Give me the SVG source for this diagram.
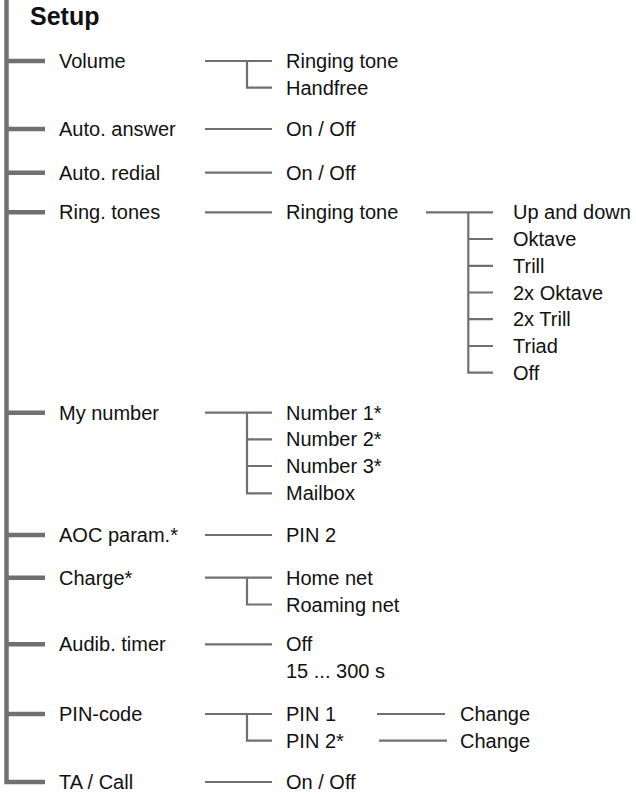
<svg xmlns="http://www.w3.org/2000/svg" width="636" height="794" viewBox="0 0 636 794">
<style>
text{font-family:"Liberation Sans",Arial,sans-serif;font-size:20px;fill:#111}
.title{font-weight:bold;font-size:25px}
.main{stroke:#707070;stroke-width:4.5;fill:none}
.thin{stroke:#707070;stroke-width:2.2;fill:none}
</style>
<rect width="636" height="794" fill="#fff"/>
<g id="connectors">
<path class="main" d="M6.5 0 V782 H45"/>
<path class="main" d="M6.5 61 H45 M6.5 129 H45 M6.5 172.7 H45 M6.5 212.3 H45 M6.5 412.7 H45 M6.5 535 H45 M6.5 577.7 H45 M6.5 644.3 H45 M6.5 714 H45"/>
<path class="thin" d="M205 61 H272 M247 61 V87.7 H272"/>
<path class="thin" d="M205 129 H272"/>
<path class="thin" d="M205 172.7 H272"/>
<path class="thin" d="M205 212.3 H272"/>
<path class="thin" d="M426 212.3 H493 M468.3 212.3 V372.7 H493 M468.3 239 H493 M468.3 265.8 H493 M468.3 292.5 H493 M468.3 319.2 H493 M468.3 346 H493"/>
<path class="thin" d="M205 412.7 H272 M247 412.7 V493.3 H272 M247 439.3 H272 M247 466 H272"/>
<path class="thin" d="M205 535 H272"/>
<path class="thin" d="M205 577.7 H272 M247 577.7 V604.5 H272"/>
<path class="thin" d="M205 644.3 H272"/>
<path class="thin" d="M205 714 H272 M247 714 V740.7 H272"/>
<path class="thin" d="M377 714 H445 M379 740.7 H447"/>
<path class="thin" d="M205 782 H272"/>
</g>
<g id="setup"><text class="title" x="30" y="25">Setup</text></g>
<g id="volume"><text x="59" y="68">Volume</text></g>
<g id="volume-ringing"><text x="286" y="68">Ringing tone</text></g>
<g id="volume-handfree"><text x="286" y="94.7">Handfree</text></g>
<g id="auto-answer"><text x="59" y="136">Auto. answer</text></g>
<g id="auto-answer-onoff"><text x="286" y="136">On / Off</text></g>
<g id="auto-redial"><text x="59" y="179.7">Auto. redial</text></g>
<g id="auto-redial-onoff"><text x="286" y="179.7">On / Off</text></g>
<g id="ring-tones"><text x="59" y="219.3">Ring. tones</text></g>
<g id="ringing-tone"><text x="286" y="219.3">Ringing tone</text></g>
<g id="rt-updown"><text x="513" y="219.3">Up and down</text></g>
<g id="rt-oktave"><text x="513" y="246">Oktave</text></g>
<g id="rt-trill"><text x="513" y="272.8">Trill</text></g>
<g id="rt-2xoktave"><text x="513" y="299.5">2x Oktave</text></g>
<g id="rt-2xtrill"><text x="513" y="326.2">2x Trill</text></g>
<g id="rt-triad"><text x="513" y="353">Triad</text></g>
<g id="rt-off"><text x="513" y="379.7">Off</text></g>
<g id="my-number"><text x="59" y="419.7">My number</text></g>
<g id="number1"><text x="286" y="419.7">Number 1*</text></g>
<g id="number2"><text x="286" y="446.3">Number 2*</text></g>
<g id="number3"><text x="286" y="473">Number 3*</text></g>
<g id="mailbox"><text x="286" y="500.3">Mailbox</text></g>
<g id="aoc"><text x="59" y="542">AOC param.*</text></g>
<g id="pin2-aoc"><text x="286" y="542">PIN 2</text></g>
<g id="charge"><text x="59" y="584.7">Charge*</text></g>
<g id="home-net"><text x="286" y="584.7">Home net</text></g>
<g id="roaming-net"><text x="286" y="611.5">Roaming net</text></g>
<g id="audib-timer"><text x="59" y="651.3">Audib. timer</text></g>
<g id="timer-off"><text x="286" y="651.3">Off</text></g>
<g id="timer-range"><text x="286" y="678">15 ... 300 s</text></g>
<g id="pin-code"><text x="59" y="721">PIN-code</text></g>
<g id="pin1"><text x="286" y="721">PIN 1</text></g>
<g id="pin2"><text x="286" y="747.7">PIN 2*</text></g>
<g id="change1"><text x="460" y="721">Change</text></g>
<g id="change2"><text x="460" y="747.7">Change</text></g>
<g id="ta-call"><text x="59" y="789">TA / Call</text></g>
<g id="ta-onoff"><text x="286" y="789">On / Off</text></g>
</svg>
